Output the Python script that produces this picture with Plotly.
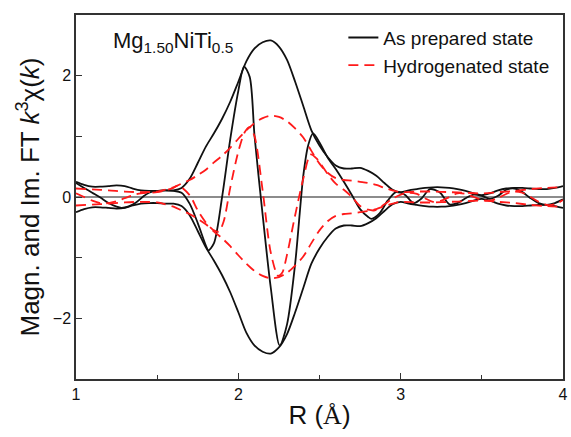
import plotly.graph_objects as go

# |FT| and Im[FT] of k^3 chi(k), as prepared sample
r_mag_prep = [1.00, 1.05, 1.10, 1.15, 1.20, 1.25, 1.30, 1.35, 1.40, 1.45, 1.50, 1.55, 1.60,
              1.65, 1.70, 1.75, 1.80, 1.85, 1.90, 1.95, 2.00, 2.05, 2.10, 2.15, 2.20, 2.25,
              2.30, 2.35, 2.40, 2.45, 2.50, 2.55, 2.60, 2.65, 2.70, 2.75, 2.80, 2.85, 2.90,
              2.95, 3.00, 3.05, 3.10, 3.15, 3.20, 3.25, 3.30, 3.35, 3.40, 3.45, 3.50, 3.55,
              3.60, 3.65, 3.70, 3.75, 3.80, 3.85, 3.90, 3.95, 4.00]
mag_prep = [0.25, 0.20, 0.17, 0.17, 0.18, 0.19, 0.18, 0.14, 0.11, 0.10, 0.10, 0.11, 0.11,
            0.15, 0.30, 0.56, 0.83, 1.05, 1.29, 1.57, 1.90, 2.24, 2.45, 2.55, 2.58, 2.48,
            2.26, 1.90, 1.50, 1.10, 0.85, 0.66, 0.52, 0.47, 0.47, 0.48, 0.43, 0.35, 0.23,
            0.12, 0.08, 0.11, 0.13, 0.15, 0.16, 0.16, 0.15, 0.13, 0.10, 0.06, 0.03, 0.06,
            0.11, 0.14, 0.15, 0.15, 0.14, 0.13, 0.13, 0.15, 0.18]

r_im_prep = [1.00, 1.05, 1.10, 1.15, 1.20, 1.25, 1.28, 1.32, 1.37, 1.42, 1.45, 1.50, 1.55,
             1.60, 1.65, 1.70, 1.75, 1.80, 1.815, 1.85, 1.90, 1.95, 2.00, 2.035, 2.07,
             2.10, 2.15, 2.20, 2.255, 2.30, 2.35, 2.40, 2.43, 2.46, 2.50, 2.55, 2.60, 2.65,
             2.70, 2.75, 2.80, 2.82, 2.87, 2.92, 2.97, 3.00, 3.03, 3.08, 3.13, 3.18, 3.24,
             3.30, 3.35, 3.40, 3.45, 3.50, 3.55, 3.60, 3.65, 3.70, 3.75, 3.80, 3.85, 3.90,
             3.95, 4.00]
im_prep = [0.23, 0.15, 0.07, -0.01, -0.10, -0.16, -0.18, -0.16, -0.09, 0.02, 0.07, 0.10,
           0.11, 0.10, 0.07, -0.11, -0.43, -0.80, -0.88, -0.76, 0.00, 0.95, 1.75, 2.15,
           1.98, 1.00, -0.30, -1.50, -2.45, -2.10, -1.10, 0.35, 0.85, 1.05, 0.90, 0.65,
           0.46, 0.25, 0.03, -0.20, -0.33, -0.36, -0.27, -0.06, 0.08, 0.07, 0.03, -0.10,
           -0.02, 0.13, 0.08, -0.12, -0.10, -0.02, 0.04, 0.02, -0.03, 0.02, 0.12, 0.14,
           0.08, -0.02, -0.10, -0.13, -0.10, -0.04]

# |FT| and Im[FT] of k^3 chi(k), hydrogenated sample
r_mag_hyd = [1.00, 1.10, 1.20, 1.30, 1.40, 1.50, 1.55, 1.60, 1.65, 1.70, 1.75, 1.80, 1.85,
             1.90, 1.95, 2.00, 2.05, 2.10, 2.15, 2.20, 2.25, 2.30, 2.35, 2.40, 2.45, 2.50,
             2.55, 2.60, 2.65, 2.70, 2.75, 2.80, 2.85, 2.90, 2.95, 3.00, 3.10, 3.20, 3.30,
             3.40, 3.50, 3.60, 3.70, 3.80, 3.90, 4.00]
mag_hyd = [0.14, 0.125, 0.11, 0.09, 0.08, 0.09, 0.12, 0.16, 0.22, 0.28, 0.36, 0.45, 0.57,
           0.68, 0.81, 0.96, 1.10, 1.22, 1.30, 1.34, 1.32, 1.25, 1.13, 0.98, 0.76, 0.55,
           0.40, 0.31, 0.28, 0.27, 0.25, 0.23, 0.20, 0.15, 0.11, 0.08, 0.09, 0.09, 0.08,
           0.07, 0.06, 0.08, 0.10, 0.13, 0.15, 0.16]

r_im_hyd = [1.00, 1.05, 1.10, 1.15, 1.20, 1.25, 1.30, 1.35, 1.40, 1.45, 1.50, 1.55, 1.60,
            1.63, 1.70, 1.75, 1.80, 1.85, 1.88, 1.91, 1.95, 2.00, 2.04, 2.07, 2.10, 2.15,
            2.20, 2.245, 2.27, 2.30, 2.35, 2.40, 2.445, 2.48, 2.55, 2.60, 2.65, 2.70, 2.75,
            2.80, 2.84, 2.90, 2.95, 3.00, 3.05, 3.10, 3.15, 3.20, 3.25, 3.30, 3.35, 3.40,
            3.45, 3.50, 3.55, 3.60, 3.65, 3.70, 3.75, 3.80, 3.85, 3.90, 3.95, 4.00]
im_hyd = [0.06, 0.00, -0.06, -0.10, -0.10, -0.07, -0.02, 0.03, 0.06, 0.07, 0.08, 0.11,
          0.15, 0.19, 0.03, -0.22, -0.42, -0.55, -0.57, -0.40, 0.15, 0.75, 1.07, 1.15,
          1.00, 0.10, -0.92, -1.30, -1.25, -0.95, -0.30, 0.30, 0.70, 0.64, 0.38, 0.22,
          0.12, 0.00, -0.15, -0.21, -0.22, -0.12, -0.03, 0.04, 0.07, 0.05, -0.02, -0.08,
          -0.06, 0.00, 0.06, 0.05, 0.00, -0.05, -0.06, -0.02, 0.05, 0.09, 0.07, 0.00,
          -0.08, -0.13, -0.12, -0.05]

x_ticks = [1, 2, 3, 4]
y_ticks = [-2, 0, 2]

BLACK = "#111111"
RED = "#ff1a1a"
FONT = "Liberation Sans, Arial, sans-serif"

fig = go.Figure()

black_line = dict(color=BLACK, width=1.8, shape="spline", smoothing=0.8)
red_line = dict(color=RED, width=1.8, dash="10px,6px", shape="spline", smoothing=0.8)

fig.add_trace(go.Scatter(x=r_mag_prep, y=mag_prep, mode="lines", line=black_line,
                         name="As prepared state", legendgroup="prep"))
fig.add_trace(go.Scatter(x=r_mag_prep, y=[-v for v in mag_prep], mode="lines", line=black_line,
                         legendgroup="prep", showlegend=False))
fig.add_trace(go.Scatter(x=r_im_prep, y=im_prep, mode="lines", line=black_line,
                         legendgroup="prep", showlegend=False))

fig.add_trace(go.Scatter(x=r_mag_hyd, y=mag_hyd, mode="lines", line=red_line,
                         name="Hydrogenated state", legendgroup="hyd"))
fig.add_trace(go.Scatter(x=r_mag_hyd, y=[-v for v in mag_hyd], mode="lines", line=red_line,
                         legendgroup="hyd", showlegend=False))
fig.add_trace(go.Scatter(x=r_im_hyd, y=im_hyd, mode="lines", line=red_line,
                         legendgroup="hyd", showlegend=False))

fig.add_annotation(
    text="Mg<sub>1.50</sub>NiTi<sub>0.5</sub>",
    xref="paper", yref="paper", x=0.072, y=0.925,
    xanchor="left", yanchor="middle", showarrow=False,
    font=dict(family=FONT, size=22, color=BLACK),
)

axis_common = dict(
    showline=True, linecolor="#333333", linewidth=1.5, mirror=True,
    ticks="inside", ticklen=6, tickwidth=1.2, tickcolor="#333333",
    showgrid=False, tickfont=dict(family=FONT, size=16, color=BLACK),
)

fig.update_xaxes(
    range=[1, 4], tickvals=x_ticks, zeroline=False,
    minor=dict(dtick=0.5, tick0=1, ticks="inside", ticklen=4, tickcolor="#333333"),
    title=dict(text="R (<span style='font-family:Liberation Serif'>Å</span>)",
               font=dict(family=FONT, size=26, color=BLACK), standoff=4),
    **axis_common,
)
fig.update_yaxes(
    range=[-3, 3], tickvals=y_ticks,
    zeroline=True, zerolinecolor="#8c8c8c", zerolinewidth=2,
    minor=dict(tickvals=[-1, 1], ticks="inside", ticklen=6, tickcolor="#333333"),
    title=dict(text="Magn. and Im. FT <i>k</i><sup>3</sup>χ(<i>k</i>)",
               font=dict(family=FONT, size=26, color=BLACK), standoff=6),
    **axis_common,
)

fig.update_layout(
    width=571, height=437,
    margin=dict(l=76, r=3, t=15, b=58),
    paper_bgcolor="white", plot_bgcolor="white",
    font=dict(family=FONT, color=BLACK),
    showlegend=True,
    legend=dict(
        x=0.549, y=0.99, xanchor="left", yanchor="top",
        bgcolor="rgba(0,0,0,0)", borderwidth=0,
        font=dict(family=FONT, size=19, color=BLACK),
        tracegroupgap=0,
    ),
)

fig.write_html("out.html")
